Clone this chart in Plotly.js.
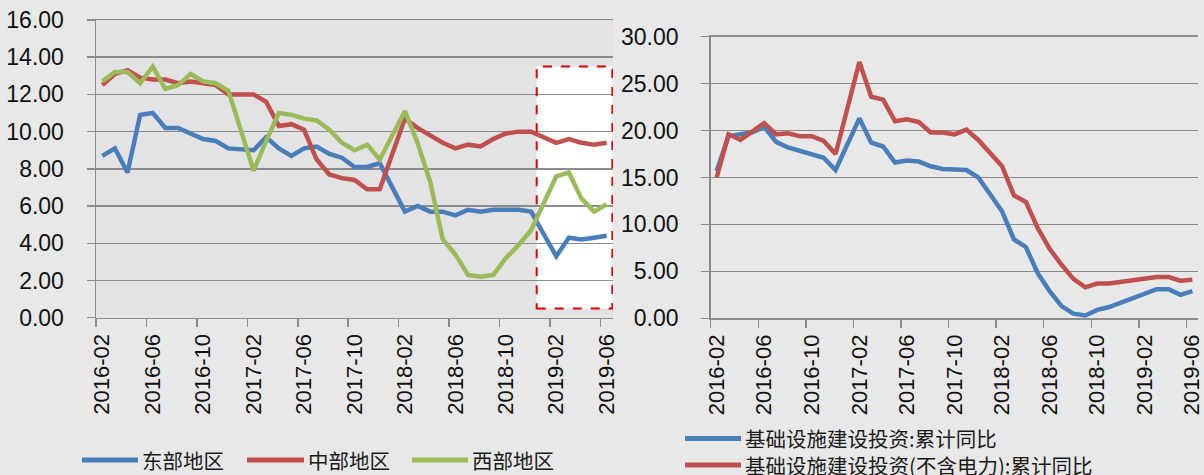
<!DOCTYPE html>
<html>
<head>
<meta charset="utf-8">
<script src="https://cdn.plot.ly/plotly-3.0.1.min.js"></script>
<style>
  html, body { margin: 0; padding: 0; background: #e8e8e8; }
  #chart { width: 1204px; height: 475px; }
</style>
</head>
<body>
<div id="chart"></div>
<script>
// Monthly categories (January figures are not published separately, so they are null)
const months = [
  '2016-02','2016-03','2016-04','2016-05','2016-06','2016-07','2016-08','2016-09','2016-10','2016-11','2016-12',
  '2017-01','2017-02','2017-03','2017-04','2017-05','2017-06','2017-07','2017-08','2017-09','2017-10','2017-11','2017-12',
  '2018-01','2018-02','2018-03','2018-04','2018-05','2018-06','2018-07','2018-08','2018-09','2018-10','2018-11','2018-12',
  '2019-01','2019-02','2019-03','2019-04','2019-05','2019-06'
];

// Left panel: regional fixed-asset investment, cumulative YoY (%)
const regionNames = ['东部地区', '中部地区', '西部地区'];
const east = [
  8.7, 9.1, 7.8, 10.9, 11.0, 10.2, 10.2, 9.9, 9.6, 9.5, 9.1,
  null, 9.0, 9.7, 9.1, 8.7, 9.1, 9.2, 8.8, 8.6, 8.1, 8.1, 8.3,
  null, 5.7, 6.0, 5.7, 5.7, 5.5, 5.8, 5.7, 5.8, 5.8, 5.8, 5.7,
  null, 3.3, 4.3, 4.2, 4.3, 4.4
];
const central = [
  12.5, 13.1, 13.3, 12.9, 12.8, 12.8, 12.6, 12.7, 12.6, 12.5, 12.0,
  null, 12.0, 11.6, 10.3, 10.4, 10.1, 8.5, 7.7, 7.5, 7.4, 6.9, 6.9,
  null, 10.7, 10.2, 9.8, 9.4, 9.1, 9.3, 9.2, 9.6, 9.9, 10.0, 10.0,
  null, 9.4, 9.6, 9.4, 9.3, 9.4
];
const west = [
  12.7, 13.2, 13.2, 12.6, 13.5, 12.3, 12.5, 13.1, 12.7, 12.6, 12.2,
  null, 7.9, 9.5, 11.0, 10.9, 10.7, 10.6, 10.1, 9.4, 9.0, 9.3, 8.5,
  null, 11.1, 9.4, 7.3, 4.2, 3.4, 2.3, 2.2, 2.3, 3.2, 3.9, 4.7,
  null, 7.6, 7.8, 6.4, 5.7, 6.1
];

// Right panel: infrastructure investment, cumulative YoY (%)
const infraNames = ['基础设施建设投资:累计同比', '基础设施建设投资(不含电力):累计同比'];
const infra = [
  15.7, 19.4, 19.6, 19.8, 20.4, 18.8, 18.2, 17.8, 17.4, 17.1, 15.8,
  null, 21.3, 18.7, 18.3, 16.6, 16.8, 16.7, 16.2, 15.9, 15.8, 15.8, 15.0,
  null, 11.4, 8.4, 7.6, 4.8, 2.9, 1.3, 0.5, 0.3, 0.9, 1.2, 1.7,
  null, 2.6, 3.1, 3.1, 2.5, 2.9
];
const infraExPower = [
  15.0, 19.6, 19.0, 19.9, 20.8, 19.6, 19.7, 19.4, 19.4, 18.9, 17.5,
  null, 27.3, 23.6, 23.3, 21.0, 21.2, 20.9, 19.8, 19.8, 19.6, 20.1, 19.0,
  null, 16.2, 13.1, 12.4, 9.6, 7.4, 5.7, 4.2, 3.3, 3.7, 3.7, 3.9,
  null, 4.3, 4.4, 4.4, 4.0, 4.1
];

const BLUE = '#4a7ebb', RED = '#c0504d', GREEN = '#9bbb59';
const W = 1204, H = 475;
const px = v => v / W;          // horizontal pixel -> paper fraction
const py = v => (H - v) / H;    // vertical pixel (from top) -> paper fraction

const line = (x, y, name, color, xa, ya) => ({
  type: 'scatter', mode: 'lines', x, y, name,
  xaxis: xa, yaxis: ya, connectgaps: true, showlegend: false,
  line: { color, width: 4.5, shape: 'linear' },
  hoverinfo: 'skip'
});

const traces = [
  line(months, east, regionNames[0], BLUE, 'x', 'y'),
  line(months, central, regionNames[1], RED, 'x', 'y'),
  line(months, west, regionNames[2], GREEN, 'x', 'y'),
  line(months, infra, infraNames[0], BLUE, 'x2', 'y2'),
  line(months, infraExPower, infraNames[1], RED, 'x2', 'y2')
];

const tickFont = { family: 'Liberation Sans, Arial, sans-serif', size: 23, color: '#111' };
const GRID = '#8c8c8c';
const LEGEND_FONT = { family: 'Noto Sans CJK SC, sans-serif', size: 20.5, color: '#1a1a1a' };

// mirror draws the top border, which stands in for the top gridline
const xCommon = {
  type: 'category', categoryorder: 'array', categoryarray: months,
  range: [-0.5, months.length - 0.5],
  tickmode: 'linear', tick0: 0, dtick: 4, tickson: 'boundaries',
  ticks: 'outside', ticklen: 8, tickwidth: 1.5, tickcolor: GRID,
  tickangle: -90, tickfont: { ...tickFont, size: 22 }, ticklabelstandoff: 6,
  showgrid: false, showline: true, mirror: true, linecolor: GRID, linewidth: 1.5,
  zeroline: false, fixedrange: true, automargin: false
};
const yCommon = {
  tickformat: '.2f', ticks: 'outside', ticklen: 8, tickwidth: 1.5, tickcolor: GRID,
  tickfont: tickFont, ticklabelstandoff: 18,
  showgrid: true, gridcolor: GRID, gridwidth: 1.5,
  showline: true, linecolor: GRID, linewidth: 1.5,
  zeroline: false, fixedrange: true, automargin: false
};

// Legend drawn as short line segments with labels
const legendShapes = [];
const legendLabels = [];
function legendSwatch(x0, x1, y, color) {
  legendShapes.push({
    type: 'line', xref: 'paper', yref: 'paper',
    x0: px(x0), x1: px(x1), y0: py(y), y1: py(y),
    line: { color, width: 5 }
  });
}
function legendText(x, y, text) {
  legendLabels.push({
    xref: 'paper', yref: 'paper', x: px(x), y: py(y),
    xanchor: 'left', yanchor: 'middle', align: 'left', showarrow: false, text,
    borderpad: 0, font: LEGEND_FONT
  });
}
// left panel: one row of three entries
legendSwatch(82, 138, 460, BLUE);   legendText(141, 460, regionNames[0]);
legendSwatch(247, 304, 460, RED);   legendText(307, 460, regionNames[1]);
legendSwatch(412, 468, 460, GREEN); legendText(471, 460, regionNames[2]);
// right panel: two stacked entries, labels set as one two-line block
legendSwatch(685, 741, 438.5, BLUE);
legendSwatch(685, 741, 465, RED);
legendText(744, 451.75, infraNames.join('<br>'));

const layout = {
  width: W, height: H,
  margin: { l: 0, r: 0, t: 0, b: 0, pad: 0 },
  paper_bgcolor: '#e8e8e8', plot_bgcolor: 'rgba(0,0,0,0)',
  showlegend: false,
  xaxis: { ...xCommon, domain: [px(96), px(613)], anchor: 'y' },
  yaxis: { ...yCommon, domain: [py(317.7), py(20)], range: [0, 16], dtick: 2, anchor: 'x' },
  xaxis2: { ...xCommon, domain: [px(710.7), px(1198.3)], anchor: 'y2' },
  yaxis2: { ...yCommon, domain: [py(318.3), py(36.7)], range: [0, 30], dtick: 5, anchor: 'x2' },
  shapes: [
    // plot area of the left panel
    { type: 'rect', xref: 'x', yref: 'y', layer: 'below',
      x0: -0.5, x1: months.length - 0.5, y0: 0, y1: 16,
      fillcolor: '#e3e2e4', line: { width: 0 } },
    // highlighted 2019 window
    { type: 'rect', xref: 'x', yref: 'y', layer: 'below',
      x0: 34.45, x1: 40.45, y0: 0.5, y1: 13.5,
      fillcolor: '#ffffff', line: { width: 0 } },
    { type: 'rect', xref: 'x', yref: 'y', layer: 'between',
      x0: 34.45, x1: 40.45, y0: 0.5, y1: 13.5,
      fillcolor: 'rgba(0,0,0,0)', line: { color: '#e00000', width: 2, dash: 'dash' } },
    ...legendShapes
  ],
  annotations: legendLabels
};

Plotly.newPlot('chart', traces, layout, { staticPlot: true, displayModeBar: false });
</script>
</body>
</html>
